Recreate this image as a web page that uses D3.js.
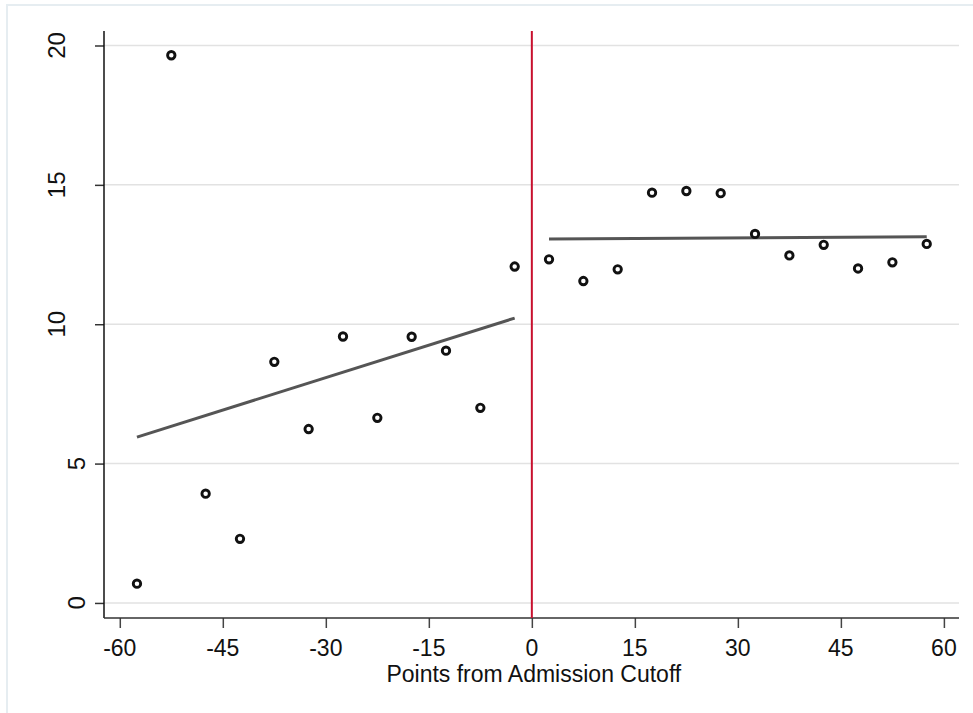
<!DOCTYPE html>
<html>
<head>
<meta charset="utf-8">
<script src="https://cdn.jsdelivr.net/npm/d3@7"></script>
<style>
  body { margin: 0; background: #fff; }
  svg text { font-family: "Liberation Sans", Arial, sans-serif; fill: #111; }
</style>
</head>
<body>
<div id="chart"></div>
<script>
// bin midpoints (points from cutoff) en gemiddelden per bin
const binsLeft = [-57.5, -52.5, -47.5, -42.5, -37.5, -32.5, -27.5, -22.5, -17.5, -12.5, -7.5, -2.5];
const valuesLeft = [0.69, 19.65, 3.92, 2.30, 8.65, 6.24, 9.56, 6.64, 9.55, 9.05, 7.0, 12.07];
const binsRight = [2.5, 7.5, 12.5, 17.5, 22.5, 27.5, 32.5, 37.5, 42.5, 47.5, 52.5, 57.5];
const valuesRight = [12.33, 11.55, 11.97, 14.72, 14.78, 14.7, 13.24, 12.47, 12.85, 12.0, 12.22, 12.88];

// lineaire fit, begin- en eindpunt per kant
const fitLeft = [[-57.5, 5.95], [-2.5, 10.22]];
const fitRight = [[2.5, 13.06], [57.5, 13.14]];

const xTicks = [-60, -45, -30, -15, 0, 15, 30, 45, 60];
const yTicks = [0, 5, 10, 15, 20];
const cutoff = 0;

const width = 973, height = 713;
const plot = { left: 104, right: 959, top: 31, bottom: 618 };

const x = d3.scaleLinear().domain([-62.3, 62.2]).range([plot.left, plot.right]);
const y = d3.scaleLinear().domain([-0.54, 20.52]).range([plot.bottom, plot.top]);

const svg = d3.select("#chart")
    .append("svg")
    .attr("width", width)
    .attr("height", height);

// buitenste kader
svg.append("rect")
    .attr("x", 7).attr("y", 5)
    .attr("width", width + 20).attr("height", height + 20)
    .attr("fill", "#fff")
    .attr("stroke", "#e6edf1")
    .attr("stroke-width", 2);

// gridlijnen
svg.append("g")
    .selectAll("line")
    .data(yTicks)
    .enter()
    .append("line")
    .attr("x1", plot.left).attr("x2", plot.right)
    .attr("y1", d => y(d)).attr("y2", d => y(d))
    .attr("stroke", "#e2e2e2")
    .attr("stroke-width", 1.5);

// y-as
const yAxis = svg.append("g")
    .attr("transform", "translate(" + plot.left + ",0)")
    .call(d3.axisLeft(y).tickValues(yTicks).tickSize(9).tickFormat(""));
yAxis.select(".domain").remove();
yAxis.selectAll(".tick line").attr("stroke", "#333").attr("stroke-width", 1.5);
svg.append("line")
    .attr("x1", plot.left).attr("x2", plot.left)
    .attr("y1", plot.top).attr("y2", plot.bottom)
    .attr("stroke", "#111").attr("stroke-width", 1.5);

// gedraaide y-labels (Stata schuift ze op naar tekstlengte)
svg.append("g")
    .selectAll("text")
    .data(yTicks)
    .enter()
    .append("text")
    .attr("transform", d => "translate(" + (105 - 20 * String(d).length) + "," + y(d) + ") rotate(-90)")
    .attr("text-anchor", "middle")
    .attr("font-size", 24)
    .text(d => d);

// x-as
const xAxis = svg.append("g")
    .attr("transform", "translate(0," + plot.bottom + ")")
    .call(d3.axisBottom(x).tickValues(xTicks).tickSize(10).tickFormat(""));
xAxis.select(".domain").remove();
xAxis.selectAll(".tick line").attr("stroke", "#444").attr("stroke-width", 1.5);
svg.append("line")
    .attr("x1", plot.left).attr("x2", plot.right)
    .attr("y1", plot.bottom).attr("y2", plot.bottom)
    .attr("stroke", "#333").attr("stroke-width", 1.5);

svg.append("g")
    .selectAll("text")
    .data(xTicks)
    .enter()
    .append("text")
    .attr("x", d => x(d))
    .attr("y", 656)
    .attr("text-anchor", "middle")
    .attr("font-size", 23)
    .text(d => d);

// as-titel
svg.append("text")
    .attr("x", x(0) + 2)
    .attr("y", 682)
    .attr("text-anchor", "middle")
    .attr("font-size", 23)
    .text("Points from Admission Cutoff");

// cutoff lijn
svg.append("line")
    .attr("x1", x(cutoff)).attr("x2", x(cutoff))
    .attr("y1", plot.top).attr("y2", plot.bottom)
    .attr("stroke", "#c8102e")
    .attr("stroke-width", 2);

// fit lijnen
const line = d3.line().x(d => x(d[0])).y(d => y(d[1]));
[fitLeft, fitRight].forEach(f => {
    svg.append("path")
        .attr("d", line(f))
        .attr("fill", "none")
        .attr("stroke", "#555")
        .attr("stroke-width", 3);
});

// punten
const points = binsLeft.map((b, i) => [b, valuesLeft[i]])
    .concat(binsRight.map((b, i) => [b, valuesRight[i]]));
svg.append("g")
    .selectAll("circle")
    .data(points)
    .enter()
    .append("circle")
    .attr("cx", d => x(d[0]))
    .attr("cy", d => y(d[1]))
    .attr("r", 3.7)
    .attr("fill", "#fff")
    .attr("stroke", "#111")
    .attr("stroke-width", 2.9);
</script>
</body>
</html>
